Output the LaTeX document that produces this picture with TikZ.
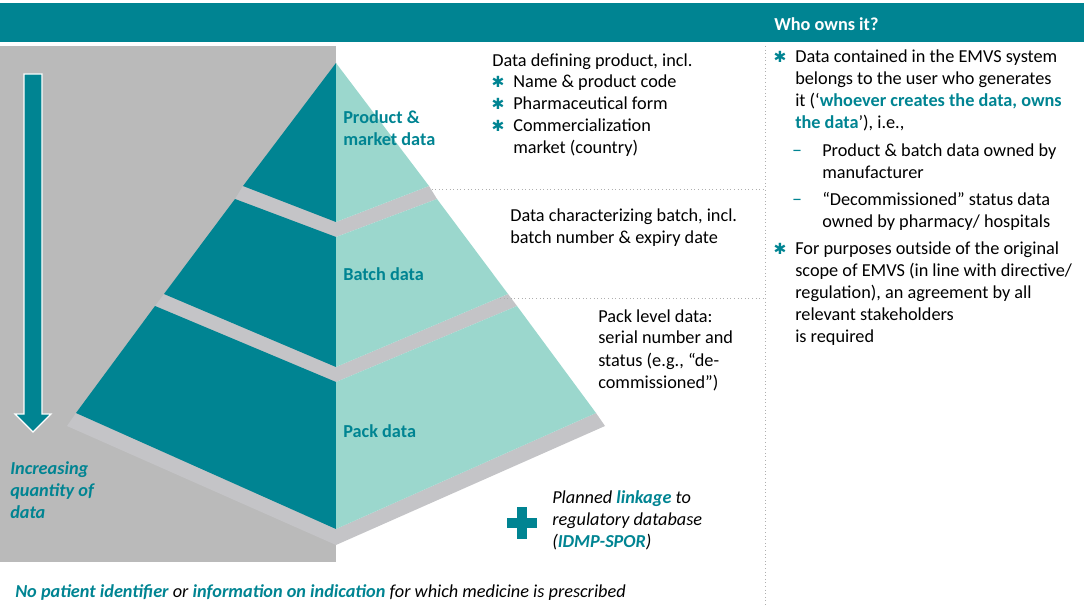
\documentclass[tikz,border=0pt]{standalone}
\usepackage{fontspec}
\setmainfont{Carlito}
\newfontfamily\symfont{DejaVu Sans}
\usetikzlibrary{positioning}

\definecolor{tealdark}{RGB}{0,132,146}
\definecolor{tealpale}{RGB}{155,215,205}
\definecolor{panelgrey}{RGB}{186,186,186}
\definecolor{slabgrey}{RGB}{196,196,199}
\definecolor{rulegrey}{RGB}{175,175,175}

\begin{document}
\begin{tikzpicture}[x=0.75pt, y=-0.75pt,
  txt/.style={anchor=base west, inner sep=0pt, align=left, font=\fontsize{13.7}{16.5}\selectfont},
  lbl/.style={txt, text=tealdark, font=\fontsize{13.7}{16.5}\selectfont\bfseries},
  bul/.style={anchor=base, inner sep=0pt, text=tealdark, font=\symfont\fontsize{11.5}{12}\selectfont},
  sep/.style={rulegrey, dotted, line width=0.7pt}]
  \useasboundingbox (0,0) rectangle (1084,605);
  % Panels
  \fill[tealdark] (0,3) rectangle (1084,42);
  \fill[panelgrey] (0,46) rectangle (336,562);
  \draw[sep] (765,46) -- (765,605);
  % Arrow
  \filldraw[fill=tealdark, draw=white, line width=0.8pt]
    (24,74) -- (42,74) -- (42,414) -- (51,414) -- (33,432) -- (15,414) -- (24,414) -- cycle;
  % Pyramid corners
  \coordinate (apex) at (336,63);
  \coordinate (t1l) at (243,186);  \coordinate (t1c) at (336,222);  \coordinate (t1r) at (429,186);
  \coordinate (t2tl) at (235,199); \coordinate (t2tc) at (336,237); \coordinate (t2tr) at (437,199);
  \coordinate (t2bl) at (164,294); \coordinate (t2bc) at (336,367); \coordinate (t2br) at (508,294);
  \coordinate (t3tl) at (155,306); \coordinate (t3tc) at (336,382); \coordinate (t3tr) at (517,306);
  \coordinate (t3bl) at (76,413);  \coordinate (t3bc) at (336,529); \coordinate (t3br) at (596,413);
  \coordinate (s3l) at (67,426);   \coordinate (s3c) at (336,545);  \coordinate (s3r) at (605,426);
  % Slabs
  \fill[slabgrey] (t1l) -- (t1c) -- (t1r) -- (t2tr) -- (t2tc) -- (t2tl) -- cycle;
  \fill[slabgrey] (t2bl) -- (t2bc) -- (t2br) -- (t3tr) -- (t3tc) -- (t3tl) -- cycle;
  \fill[slabgrey] (t3bl) -- (t3bc) -- (t3br) -- (s3r) -- (s3c) -- (s3l) -- cycle;
  % Tiers
  \fill[tealdark] (apex) -- (t1l) -- (t1c) -- cycle;
  \fill[tealpale] (apex) -- (t1r) -- (t1c) -- cycle;
  \fill[tealdark] (t2tl) -- (t2tc) -- (t2bc) -- (t2bl) -- cycle;
  \fill[tealpale] (t2tr) -- (t2tc) -- (t2bc) -- (t2br) -- cycle;
  \fill[tealdark] (t3tl) -- (t3tc) -- (t3bc) -- (t3bl) -- cycle;
  \fill[tealpale] (t3tr) -- (t3tc) -- (t3bc) -- (t3br) -- cycle;
  \coordinate (r1) at (765,189);
  \coordinate (r2) at (765,298);
  \draw[sep] ([xshift=2pt]t1r |- r1) -- (r1);
  \draw[sep] (500,298) -- (r2);
  % Header
  \node[lbl, text=white] (who) at (774,31) {Who owns it?};
  % Pyramid labels (base = last line)
  \node[lbl] (prod) at (343,146) {Product \&\\market data};
  \node[lbl] (batch) at (343,281) {Batch data};
  \node[lbl] (pack) at (343,437) {Pack data};
  \node[lbl, font=\fontsize{13.7}{16.5}\selectfont\bfseries\itshape] (incr) at (10,518) {Increasing\\quantity of\\data};
  % Descriptions
  \node[txt] (def) at (492,67) {Data defining product, incl.};
  \node[bul] (db1) at (498,88) {✱};
  \node[bul] (db2) at (498,110) {✱};
  \node[bul] (db3) at (498,132) {✱};
  \node[txt] (deflist) at (513,154) {Name \& product code\\Pharmaceutical form\\Commercialization\\market (country)};
  \node[txt] (batchtxt) at (510,244) {Data characterizing batch, incl.\\batch number \& expiry date};
  \node[txt] (packtxt) at (598,388) {Pack level data:\\serial number and\\status (e.g., “de-\\commissioned”)};
  % Linkage
  \fill[tealdark] (507,518) rectangle (537,528);
  \fill[tealdark] (517,507) rectangle (527,539);
  \node[txt, font=\fontsize{13.7}{16.5}\selectfont\itshape] (link) at (552,547) {Planned \textcolor{tealdark}{\textbf{linkage}} to\\regulatory database\\(\textcolor{tealdark}{\textbf{IDMP-SPOR}})};
  % Footnote
  \node[txt, font=\fontsize{13.7}{16.5}\selectfont\itshape] (note) at (15,597) {\textcolor{tealdark}{\textbf{No patient identifier}} or \textcolor{tealdark}{\textbf{information on indication}} for which medicine is prescribed};
  % Who owns it
  \node[bul] (ob1) at (780,63) {✱};
  \node[txt] (own1) at (795,129) {Data contained in the EMVS system\\belongs to the user who generates\\it (‘\textcolor{tealdark}{\textbf{whoever creates the data, owns}}\\\textcolor{tealdark}{\textbf{the data}}’), i.e.,};
  \node[bul, font=\fontsize{15}{16.5}\selectfont] (od1) at (797,157) {–};
  \node[txt] (own2) at (822,179) {Product \& batch data owned by\\manufacturer};
  \node[bul, font=\fontsize{15}{16.5}\selectfont] (od2) at (797,206) {–};
  \node[txt] (own3) at (822,228) {“Decommissioned” status data\\owned by pharmacy/ hospitals};
  \node[bul] (ob2) at (780,255) {✱};
  \node[txt] (own4) at (795,343) {For purposes outside of the original\\scope of EMVS (in line with directive/\\regulation), an agreement by all\\relevant stakeholders\\is required};
\end{tikzpicture}
\end{document}
